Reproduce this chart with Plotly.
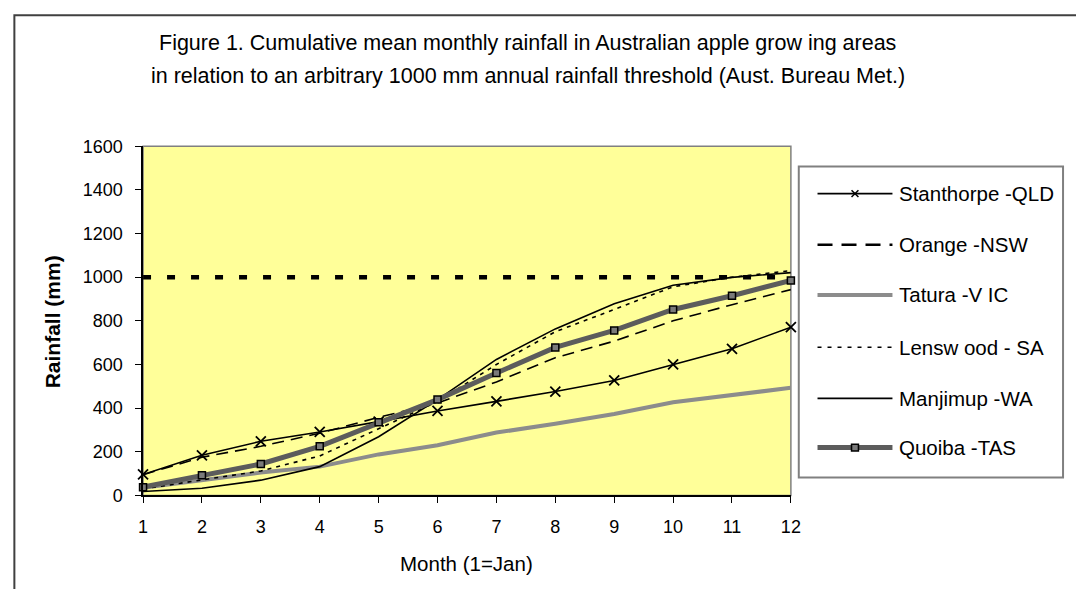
import plotly.graph_objects as go

# Month index (1 = January)
months = [1, 2, 3, 4, 5, 6, 7, 8, 9, 10, 11, 12]

# Cumulative mean monthly rainfall (mm)
stanthorpe_qld = [96, 184, 248, 291, 338, 387, 431, 476, 527, 601, 672, 771]
orange_nsw = [95, 175, 225, 285, 358, 424, 520, 631, 707, 800, 874, 943]
tatura_vic = [35, 70, 105, 132, 188, 230, 288, 328, 373, 427, 461, 493]
lenswood_sa = [30, 70, 112, 181, 307, 430, 600, 750, 852, 956, 1000, 1030]
manjimup_wa = [18, 33, 70, 132, 269, 439, 623, 763, 878, 963, 999, 1021]
quoiba_tas = [38, 92, 144, 225, 335, 439, 561, 678, 756, 852, 915, 985]

# Arbitrary annual rainfall threshold (mm)
threshold = [1000, 1000, 1000, 1000, 1000, 1000, 1000, 1000, 1000, 1000, 1000, 1000]

series_names = ["Stanthorpe -QLD", "Orange -NSW", "Tatura -V IC",
                "Lensw ood - SA", "Manjimup -WA", "Quoiba -TAS"]

y_ticks = [0, 200, 400, 600, 800, 1000, 1200, 1400, 1600]

W, H = 1076, 589
FONT = "Arial, Liberation Sans, sans-serif"
TITLE = 21.5  # chart title
TXT = 20.5    # legend, axis titles
TICK = 18     # tick labels


def fx(p):
    return p / W


def fy(p):
    return 1 - p / H


PLOT_L, PLOT_R, PLOT_T, PLOT_B = 140, 797, 141, 502.5

fig = go.Figure()

fig.add_trace(go.Scatter(
    x=months, y=threshold, mode="lines", showlegend=False,
    line=dict(color="black", width=4.5, dash="8px,16px"),
))
fig.add_trace(go.Scatter(
    x=months, y=stanthorpe_qld, mode="lines+markers", name=series_names[0],
    line=dict(color="black", width=1.6),
    marker=dict(symbol="x-thin", size=10, line=dict(color="black", width=1.8)),
    cliponaxis=False,
))
fig.add_trace(go.Scatter(
    x=months, y=orange_nsw, mode="lines", name=series_names[1],
    line=dict(color="black", width=1.6, dash="12px,7px"),
))
fig.add_trace(go.Scatter(
    x=months, y=tatura_vic, mode="lines", name=series_names[2],
    line=dict(color="#8c8c8c", width=4),
))
fig.add_trace(go.Scatter(
    x=months, y=lenswood_sa, mode="lines", name=series_names[3],
    line=dict(color="black", width=1.6, dash="4px,5px"),
))
fig.add_trace(go.Scatter(
    x=months, y=manjimup_wa, mode="lines", name=series_names[4],
    line=dict(color="black", width=1.6),
))
fig.add_trace(go.Scatter(
    x=months, y=quoiba_tas, mode="lines+markers", name=series_names[5],
    line=dict(color="#5c5c5c", width=5),
    marker=dict(symbol="square", size=7, color="#7a7a7a",
                line=dict(color="black", width=1.5)),
    cliponaxis=False,
))

shapes = []
annotations = []

# Outer chart frame
shapes.append(dict(type="rect", xref="paper", yref="paper",
                   x0=fx(9.5), x1=fx(W + 20), y0=fy(5.5), y1=fy(H + 20),
                   line=dict(color="#404040", width=2), layer="below"))
# Plot area frame (top/right in grey)
shapes.append(dict(type="rect", xref="paper", yref="paper",
                   x0=fx(PLOT_L), x1=fx(PLOT_R), y0=fy(PLOT_B), y1=fy(PLOT_T),
                   line=dict(color="#808080", width=1.5), layer="below"))

# Legend box
LEG_L, LEG_R, LEG_T, LEG_B = 805, 1073, 162, 484
shapes.append(dict(type="rect", xref="paper", yref="paper",
                   x0=fx(LEG_L), x1=fx(LEG_R), y0=fy(LEG_B), y1=fy(LEG_T),
                   line=dict(color="#808080", width=2), fillcolor="white"))

leg_y = [190, 243, 295, 349, 402, 453]
leg_styles = [
    dict(color="black", width=1.8),
    dict(color="black", width=2.5, dash="15px,9px"),
    dict(color="#8c8c8c", width=4),
    dict(color="black", width=1.5, dash="4px,6px"),
    dict(color="black", width=1.8),
    dict(color="#5c5c5c", width=5),
]
S0, S1 = 824, 900
for name, yy, st in zip(series_names, leg_y, leg_styles):
    shapes.append(dict(type="line", xref="paper", yref="paper",
                       x0=fx(S0), x1=fx(S1), y0=fy(yy), y1=fy(yy), line=st))
    annotations.append(dict(xref="paper", yref="paper", x=fx(905), y=fy(yy),
                            text=name, showarrow=False, xanchor="left",
                            yanchor="middle", font=dict(size=TXT, color="black", family=FONT)))

# Legend sample markers
cx = (S0 + S1) / 2
for d in (-3.5, 3.5):
    shapes.append(dict(type="line", xref="paper", yref="paper",
                       x0=fx(cx - 3.5), x1=fx(cx + 3.5),
                       y0=fy(leg_y[0] - d), y1=fy(leg_y[0] + d),
                       line=dict(color="black", width=1.5)))
shapes.append(dict(type="rect", xref="paper", yref="paper",
                   x0=fx(cx - 3.5), x1=fx(cx + 3.5),
                   y0=fy(leg_y[5] + 3.5), y1=fy(leg_y[5] - 3.5),
                   line=dict(color="black", width=1.5), fillcolor="#7a7a7a"))

# Titles
annotations.append(dict(xref="paper", yref="paper", x=fx(530), y=fy(34),
                        text="Figure 1. Cumulative mean monthly rainfall in Australian apple grow ing areas",
                        showarrow=False, xanchor="center", yanchor="middle",
                        font=dict(size=TITLE, color="black", family=FONT)))
annotations.append(dict(xref="paper", yref="paper", x=fx(530), y=fy(68),
                        text="in relation to an arbitrary 1000 mm annual rainfall threshold (Aust. Bureau Met.)",
                        showarrow=False, xanchor="center", yanchor="middle",
                        font=dict(size=TITLE, color="black", family=FONT)))
annotations.append(dict(xref="paper", yref="paper", x=fx(48), y=fy(323),
                        text="<b>Rainfall (mm)</b>", textangle=-90,
                        showarrow=False, xanchor="center", yanchor="middle",
                        font=dict(size=21, color="black", family=FONT)))
annotations.append(dict(xref="paper", yref="paper", x=fx(468), y=fy(573),
                        text="Month (1=Jan)", showarrow=False,
                        xanchor="center", yanchor="middle",
                        font=dict(size=TXT, color="black", family=FONT)))

fig.update_layout(
    width=W, height=H,
    margin=dict(l=0, r=0, t=0, b=0),
    paper_bgcolor="white",
    plot_bgcolor="#FFFF99",
    showlegend=False,
    font=dict(family=FONT, size=TICK, color="black"),
    shapes=shapes,
    annotations=annotations,
    xaxis=dict(
        domain=[fx(PLOT_L), fx(PLOT_R)], range=[1, 12],
        tickmode="array", tickvals=months, ticktext=[str(m) for m in months],
        ticks="outside", ticklen=6, tickcolor="black", tickwidth=1,
        showline=True, linecolor="black", linewidth=1.5,
        showgrid=False, zeroline=False, ticklabelstandoff=8,
        tickfont=dict(size=TICK),
    ),
    yaxis=dict(
        domain=[fy(PLOT_B), fy(PLOT_T)], range=[0, 1600],
        tickmode="array", tickvals=y_ticks,
        ticks="outside", ticklen=6, tickcolor="black", tickwidth=1,
        showline=True, linecolor="black", linewidth=1.5,
        showgrid=False, zeroline=False, ticklabelstandoff=9,
        tickfont=dict(size=TICK),
    ),
)

fig.write_html("out.html")
